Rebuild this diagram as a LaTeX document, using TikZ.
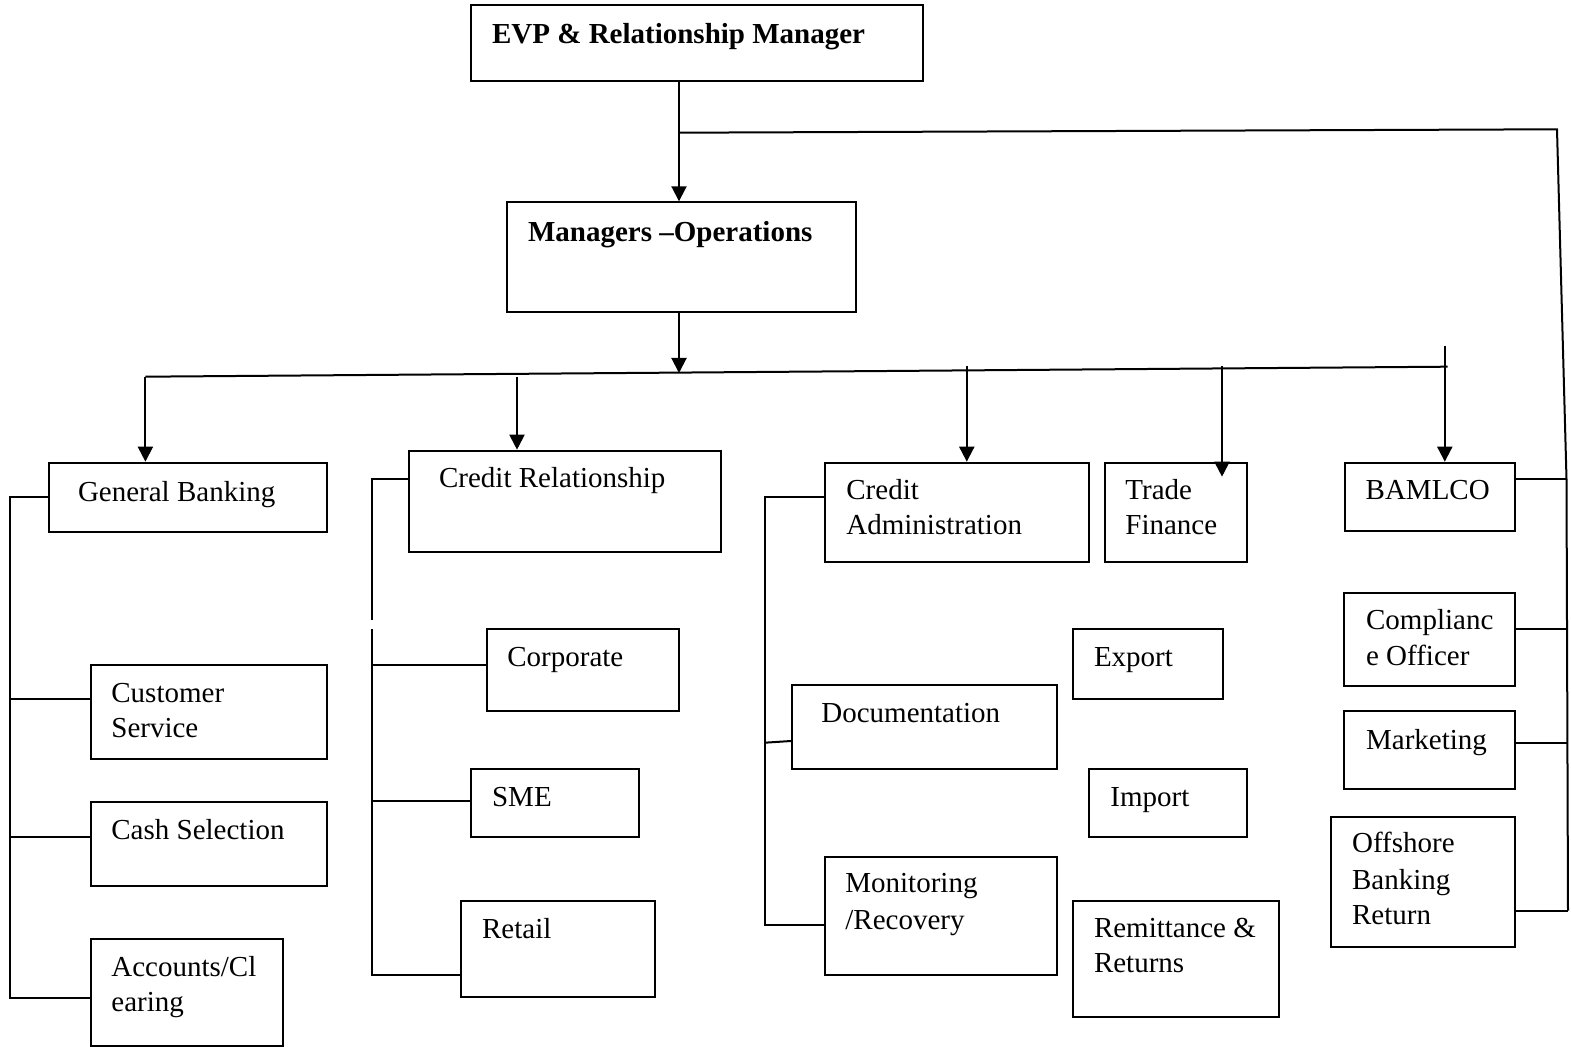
\documentclass[tikz,border=0pt]{standalone}
\usepackage{fontspec}
\setmainfont{Liberation Serif}
\usetikzlibrary{arrows.meta,fit}
\tikzset{
  box/.style={draw, line width=1pt, inner sep=0pt, rectangle},
  txt/.style={inner sep=0pt, anchor=base west, font=\fontsize{14.5}{18}\selectfont},
  btxt/.style={txt, font=\fontsize{14.5}{18}\selectfont\bfseries},
  conn/.style={line width=1pt},
  arr/.style={line width=1pt, -{Triangle[length=7.5pt,width=7.5pt]}}
}
\begin{document}
\begin{tikzpicture}[x=0.5pt,y=-0.5pt]
\useasboundingbox (0,0) rectangle (1571,1047);
% boxes
\node[box, fit={(470.7,5) (923,81)}] (evp) {};
\node[box, fit={(506.7,202.3) (855.7,311.7)}] (mgr) {};
\node[box, fit={(48.5,462.7) (327,531.7)}] (gb) {};
\node[box, fit={(408.6,450.7) (721.3,551.7)}] (cr) {};
\node[box, fit={(824.8,462.7) (1088.7,562.3)}] (ca) {};
\node[box, fit={(1104.6,462.7) (1247,562.3)}] (tf) {};
\node[box, fit={(1344.7,462.7) (1515.3,531)}] (bam) {};
\node[box, fit={(90.7,665) (326.7,759)}] (cs) {};
\node[box, fit={(90.7,801.7) (326.7,885.7)}] (csel) {};
\node[box, fit={(90.7,939) (283.3,1046)}] (acc) {};
\node[box, fit={(486.7,629.3) (679.3,711)}] (corp) {};
\node[box, fit={(470.7,769) (639,836.7)}] (sme) {};
\node[box, fit={(460.7,901) (655,996.7)}] (ret) {};
\node[box, fit={(792,685) (1056.8,769)}] (doc) {};
\node[box, fit={(824.7,857) (1056.8,975)}] (mon) {};
\node[box, fit={(1072.6,629) (1223,699)}] (exp) {};
\node[box, fit={(1088.5,769) (1247,837)}] (imp) {};
\node[box, fit={(1072.6,901) (1279,1016.7)}] (rem) {};
\node[box, fit={(1344,592.7) (1515,685.7)}] (comp) {};
\node[box, fit={(1344,711) (1515,789)}] (mkt) {};
\node[box, fit={(1330.7,816.7) (1515,946.7)}] (off) {};
% texts
\node[btxt] (evpt) at (491.7,43.3) {EVP \& Relationship Manager};
\node[btxt] (mgrt) at (527.7,241.7) {Managers –Operations};
\node[txt] (gbt) at (77.6,501.7) {General Banking};
\node[txt] (crt) at (438.7,488) {Credit Relationship};
\node[txt] (cat1) at (846,500) {Credit};
\node[txt] (cat2) at (846,535) {Administration};
\node[txt] (tft1) at (1125,500) {Trade};
\node[txt] (tft2) at (1125,535) {Finance};
\node[txt] (bamt) at (1365.3,500) {BAMLCO};
\node[txt] (cst1) at (111,702.7) {Customer};
\node[txt] (cst2) at (111,737.3) {Service};
\node[txt] (cselt) at (111,839.3) {Cash Selection};
\node[txt] (acct1) at (111,976.7) {Accounts/Cl};
\node[txt] (acct2) at (111,1011.7) {earing};
\node[txt] (corpt) at (507,666.7) {Corporate};
\node[txt] (smet) at (491.7,806.7) {SME};
\node[txt] (rett) at (481.7,938.3) {Retail};
\node[txt] (doct) at (821,723) {Documentation};
\node[txt] (expt) at (1093.6,667) {Export};
\node[txt] (impt) at (1110,807) {Import};
\node[txt] (mont1) at (845,893) {Monitoring};
\node[txt] (mont2) at (845,930) {/Recovery};
\node[txt] (remt1) at (1093.6,938) {Remittance \&};
\node[txt] (remt2) at (1093.6,973) {Returns};
\node[txt] (compt1) at (1365.7,630) {Complianc};
\node[txt] (compt2) at (1365.7,666) {e Officer};
\node[txt] (mktt) at (1365.7,750) {Marketing};
\node[txt] (offt1) at (1351.7,853) {Offshore};
\node[txt] (offt2) at (1351.7,890) {Banking};
\node[txt] (offt3) at (1351.7,925) {Return};
% junction coordinates
\coordinate (tj) at (679,132.7);
\coordinate (tr) at (1557,129.3);
\coordinate (rm) at (1566.5,479);
\coordinate (rb) at (1568,910.7);
\coordinate (busL) at (145.4,376.7);
\coordinate (busR) at (1447.5,366.7);
\coordinate (mj) at (679,373);
\coordinate (crs) at (517,376.7);
\coordinate (cas) at (966.8,366);
\coordinate (tfs) at (1222,366);
\coordinate (tfe) at (1222,476.7);
\coordinate (bams) at (1444.8,346);
\coordinate (gl1) at (9.7,497.3);
\coordinate (gl2) at (9.7,699.3);
\coordinate (gl3) at (9.7,836.7);
\coordinate (gl4) at (9.7,997.7);
\coordinate (cl1) at (371.8,479.3);
\coordinate (clg1) at (371.8,620);
\coordinate (clg2) at (371.8,629);
\coordinate (cl2) at (371.8,665);
\coordinate (cl3) at (371.8,800.7);
\coordinate (cl4) at (371.8,975);
\coordinate (al1) at (765,496.7);
\coordinate (al2) at (765,742.7);
\coordinate (al3) at (765,925);
% top connectors
\draw[arr] (679,0 |- evp.south) -- (679,0 |- mgr.north);
\draw[conn] (tj) -- (tr) -- (rm) -- (rb);
\draw[conn] (bam.east |- rm) -- (rm);
\draw[conn] (comp.east |- 0,629) -- (1568,629);
\draw[conn] (mkt.east |- 0,742.7) -- (1568,742.7);
\draw[conn] (off.east |- rb) -- (rb);
% second level
\draw[arr] (679,0 |- mgr.south) -- (mj);
\draw[conn] (busL) -- (busR);
\draw[arr] (busL) -- (busL |- gb.north);
\draw[arr] (crs) -- (crs |- cr.north);
\draw[arr] (cas) -- (cas |- ca.north);
\draw[arr] (tfs) -- (tfe);
\draw[arr] (bams) -- (bams |- bam.north);
% general banking tree
\draw[conn] (gb.west |- gl1) -- (gl1) -- (gl4) -- (gl4 -| acc.west);
\draw[conn] (gl2) -- (gl2 -| cs.west);
\draw[conn] (gl3) -- (gl3 -| csel.west);
% credit relationship tree
\draw[conn] (cr.west |- cl1) -- (cl1) -- (clg1);
\draw[conn] (clg2) -- (cl4) -- (cl4 -| ret.west);
\draw[conn] (cl2) -- (cl2 -| corp.west);
\draw[conn] (cl3) -- (cl3 -| sme.west);
% credit administration tree
\draw[conn] (ca.west |- al1) -- (al1) -- (al3) -- (al3 -| mon.west);
\draw[conn] (al2) -- (doc.west |- 0,741);
\end{tikzpicture}
\end{document}
